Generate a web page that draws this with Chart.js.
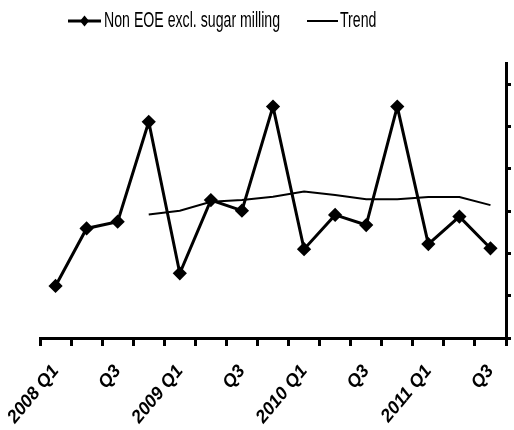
<!DOCTYPE html>
<html>
<head>
<meta charset="utf-8">
<script src="https://cdn.jsdelivr.net/npm/chart.js@4.4.1/dist/chart.umd.min.js"></script>
<style>
    html, body { margin: 0; padding: 0; background: #fff; }
    #wrap { position: relative; width: 514px; height: 430px; }
    #chart { position: absolute; left: 0; top: 0; }
    .lg { position: absolute; font-family: 'Liberation Sans', Arial, sans-serif;
          font-size: 22px; line-height: 22px; color: #000; white-space: nowrap;
          transform: scaleX(0.643); transform-origin: 0 0; }
    .sym { position: absolute; }
</style>
</head>
<body>
<div id="wrap">
    <canvas id="chart" width="514" height="430"></canvas>
    <svg class="sym" style="left:67px;top:14px" width="35" height="14">
        <line x1="1" y1="7" x2="34" y2="7" stroke="#000" stroke-width="3"/>
        <polygon points="17.5,1.5 22,7 17.5,12.5 13,7" fill="#000"/>
    </svg>
    <span class="lg" style="left:104px;top:9px">Non EOE excl. sugar milling</span>
    <svg class="sym" style="left:306px;top:14px" width="33" height="14">
        <line x1="1" y1="7" x2="32" y2="7" stroke="#000" stroke-width="2"/>
    </svg>
    <span class="lg" style="left:340px;top:9px">Trend</span>
</div>
<script>
// quarters 2008 Q1 .. 2011 Q3
const categories = ['2008 Q1', '2008 Q2', '2008 Q3', '2008 Q4',
                    '2009 Q1', '2009 Q2', '2009 Q3', '2009 Q4',
                    '2010 Q1', '2010 Q2', '2010 Q3', '2010 Q4',
                    '2011 Q1', '2011 Q2', '2011 Q3'];
const tickLabels = ['2008 Q1', '', 'Q3', '', '2009 Q1', '', 'Q3', '',
                    '2010 Q1', '', 'Q3', '', '2011 Q1', '', 'Q3'];
const nonEoeValues = [1.23, 2.59, 2.75, 5.11, 1.53, 3.26, 3.01, 5.47,
                      2.10, 2.91, 2.67, 5.47, 2.22, 2.87, 2.12];
const trendValues = [null, null, null, 2.92, 3.01, 3.22, 3.26, 3.34,
                     3.46, 3.38, 3.28, 3.28, 3.33, 3.33, 3.14];

const tickFont = { family: "'Liberation Sans', Arial, sans-serif", size: 18, weight: 'bold', style: 'italic' };

const ctx = document.getElementById('chart').getContext('2d');
new Chart(ctx, {
    type: 'line',
    data: {
        labels: categories,
        datasets: [
            {
                label: 'Non EOE excl. sugar milling',
                data: nonEoeValues,
                borderColor: '#000',
                backgroundColor: '#000',
                borderWidth: 3,
                pointStyle: 'rectRot',
                pointRadius: 5,
                pointHoverRadius: 5,
                tension: 0
            },
            {
                label: 'Trend',
                data: trendValues,
                borderColor: '#000',
                borderWidth: 2,
                pointRadius: 0,
                tension: 0
            }
        ]
    },
    options: {
        responsive: false,
        animation: false,
        layout: { padding: { left: 40, right: 0, top: 63, bottom: 0 } },
        plugins: { legend: { display: false }, tooltip: { enabled: false } },
        scales: {
            x: {
                offset: true,
                grid: { offset: true, drawOnChartArea: false, color: '#000', lineWidth: 3, tickLength: 8 },
                border: { color: '#000', width: 3 },
                ticks: {
                    autoSkip: false,
                    maxRotation: 50, minRotation: 50,
                    color: '#000',
                    font: tickFont,
                    padding: 15,
                    callback: (v, i) => tickLabels[i]
                },
                afterFit: s => { s.height = 92; s.paddingLeft = 0; s.paddingRight = 0; }
            },
            y: {
                position: 'right',
                min: 0, max: 6.5,
                grid: { drawOnChartArea: false, color: '#000', lineWidth: 3, tickLength: 5 },
                border: { color: '#000', width: 3 },
                ticks: { stepSize: 1, includeBounds: false, display: false },
                afterFit: s => { s.width = 5; }
            }
        }
    }
});
</script>
</body>
</html>
